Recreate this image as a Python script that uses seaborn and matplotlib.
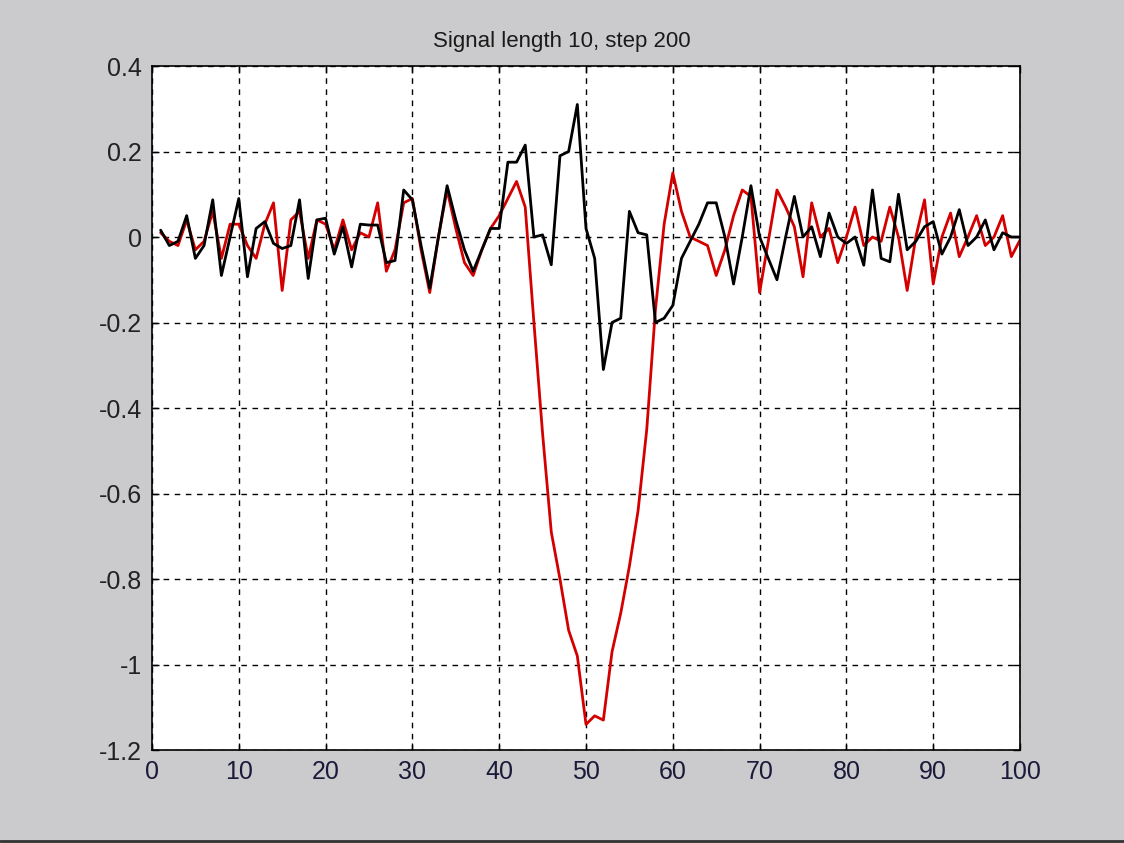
import matplotlib
matplotlib.use('Agg')
import matplotlib.pyplot as plt
import seaborn as sns
import numpy as np
from matplotlib.lines import Line2D

# signal samples, x = 1..100
samples = np.arange(1, 101)

red_signal = [
    0.01, -0.01, -0.02, 0.04, -0.03, -0.01, 0.06, -0.05, 0.03, 0.03,
    -0.02, -0.05, 0.03, 0.08, -0.125, 0.04, 0.06, -0.05, 0.04, 0.03,
    -0.03, 0.04, -0.03, 0.01, 0.0, 0.08, -0.08, -0.03, 0.08, 0.09,
    -0.03, -0.13, 0.0, 0.11, 0.02, -0.06, -0.09, -0.03, 0.02, 0.05,
    0.09, 0.13, 0.07, -0.20, -0.46, -0.69, -0.80, -0.92, -0.98, -1.14,
    -1.12, -1.13, -0.97, -0.88, -0.77, -0.64, -0.45, -0.17, 0.03, 0.15,
    0.06, 0.0, -0.01, -0.02, -0.09, -0.03, 0.05, 0.11, 0.095, -0.13,
    -0.01, 0.11, 0.07, 0.024, -0.093, 0.08, 0.0, 0.02, -0.06, 0.0,
    0.07, -0.02, 0.0, -0.01, 0.07, 0.0, -0.125, 0.0, 0.087, -0.11,
    0.0, 0.056, -0.046, 0.0, 0.05, -0.02, 0.0, 0.05, -0.046, -0.007,
]

black_signal = [
    0.016, -0.02, -0.01, 0.05, -0.05, -0.02, 0.087, -0.09, 0.0, 0.09,
    -0.093, 0.02, 0.036, -0.015, -0.027, -0.02, 0.087, -0.097, 0.04, 0.044,
    -0.04, 0.024, -0.07, 0.03, 0.028, 0.028, -0.06, -0.055, 0.11, 0.087,
    -0.02, -0.12, 0.0, 0.12, 0.04, -0.03, -0.08, -0.03, 0.02, 0.02,
    0.175, 0.175, 0.215, 0.0, 0.005, -0.065, 0.19, 0.2, 0.31, 0.02,
    -0.05, -0.31, -0.2, -0.19, 0.06, 0.01, 0.005, -0.2, -0.19, -0.16,
    -0.05, -0.01, 0.03, 0.08, 0.08, 0.0, -0.11, 0.0, 0.12, 0.0,
    -0.05, -0.10, 0.0, 0.095, 0.0, 0.024, -0.046, 0.056, 0.0, -0.015,
    0.0, -0.066, 0.11, -0.05, -0.058, 0.10, -0.03, -0.01, 0.024, 0.036,
    -0.04, 0.0, 0.064, -0.02, 0.0, 0.04, -0.03, 0.01, 0.0, 0.0,
]

x_ticks = [0, 10, 20, 30, 40, 50, 60, 70, 80, 90, 100]
y_ticks = [-1.2, -1, -0.8, -0.6, -0.4, -0.2, 0, 0.2, 0.4]
y_labels = ['-1.2', '-1', '-0.8', '-0.6', '-0.4', '-0.2', '0', '0.2', '0.4']

sns.set_style('white')
plt.rcParams['font.family'] = ['Liberation Sans', 'DejaVu Sans']

fig = plt.figure(figsize=(11.24, 8.43), dpi=100)
fig.patch.set_facecolor('#cbcbcd')
ax = fig.add_axes([0.1352, 0.1103, 0.7723, 0.8114])
ax.set_facecolor('white')

sns.lineplot(x=samples, y=red_signal, color='#d40000', linewidth=2.0, ax=ax)
sns.lineplot(x=samples, y=black_signal, color='black', linewidth=2.0, ax=ax)

ax.set_xlim(0, 100)
ax.set_ylim(-1.2, 0.4)
ax.set_xticks(x_ticks)
ax.set_yticks(y_ticks)
ax.set_xticklabels([str(t) for t in x_ticks])
ax.set_yticklabels(y_labels)
ax.tick_params(direction='in', length=5, width=1, labelsize=18,
               colors='black', pad=7, top=True, right=True,
               bottom=True, left=True)
ax.tick_params(axis='x', labelcolor='#1a1a3a')
ax.tick_params(axis='y', labelcolor='#222222')

ax.grid(True, color='black', linestyle=(0, (4, 4)), linewidth=1)
for sp in ax.spines.values():
    sp.set_color('black')
    sp.set_linewidth(1.2)

ax.set_title('Signal length 10, step 200', fontsize=16, pad=14,
             color='#1a1a1a', x=0.472)

# window border at the bottom
fig.add_artist(Line2D([0, 1], [0.002, 0.002], color='#333333', linewidth=2,
                      transform=fig.transFigure))

fig.savefig('out.png', dpi=100, facecolor=fig.get_facecolor())
